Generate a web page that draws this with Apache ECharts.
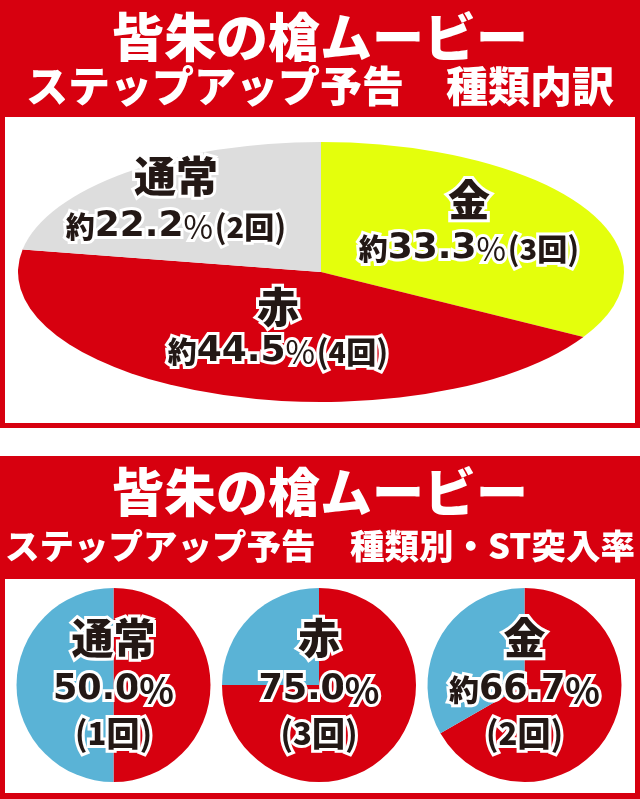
<!DOCTYPE html>
<html><head><meta charset="utf-8">
<script src="https://cdn.jsdelivr.net/npm/echarts@6/dist/echarts.min.js"></script>
<style>html,body{margin:0;padding:0;background:#fff}#c{width:640px;height:799px}</style>
</head><body><div id="c"></div>
<script>
// ---- data ----
const titleLine1 = '皆朱の槍ムービー';
const topSubtitle = 'ステップアップ予告　種類内訳';
const bottomSubtitle = 'ステップアップ予告　種類別・ST突入率';

const typeCategories = ['金', '赤', '通常'];
const typeCounts = [3, 4, 2];
const typePercents = ['33.3', '44.5', '22.2'];

const stCategories = ['通常', '赤', '金'];
const stRates = [50.0, 75.0, 66.7];
const stCounts = [1, 3, 2];
const stApprox = [false, false, true];

// ---- styles ----
const RED = '#d7000f';
const typeColors = ['#e4ff0c', RED, '#dddddd'];
const stColors = [RED, '#5ab3d6'];
const INK = '#231815';
const FONT = '"Noto Sans CJK JP", sans-serif';
const NUMFONT = '"DejaVu Sans", sans-serif';

const chart = echarts.init(document.getElementById('c'), null, {renderer: 'canvas'});

// ellipse pie geometry (layout)
const EC = {cx: 321, cy: 272, rx: 303, ry: 130};
const typeLabelPos = [[469, 200, 249], [278, 307, 352], [176, 176, 227]];

const totalType = typeCounts.reduce((a, b) => a + b, 0);
const SW = 6;
function rs(size, weight, family) {
  return {fontSize: size, fontWeight: weight, fontFamily: family, fill: INK, stroke: '#fff', lineWidth: SW};
}

function renderEllipseSlice(params, api) {
  const i = params.dataIndex;
  let before = 0;
  for (let j = 0; j < i; j++) before += typeCounts[j];
  const v = api.value(0);
  const R = 100;
  const start = -Math.PI / 2 + before / totalType * Math.PI * 2;
  const end = start + v / totalType * Math.PI * 2;
  const p = typeLabelPos[i];
  return {
    type: 'group',
    children: [
      {
        type: 'sector',
        x: EC.cx, y: EC.cy, scaleX: EC.rx / R, scaleY: EC.ry / R,
        shape: {cx: 0, cy: 0, r0: 0, r: R, startAngle: start, endAngle: end, clockwise: true},
        style: {fill: typeColors[i], stroke: null}
      },
      {
        type: 'text', x: p[0], y: p[1], z2: 100,
        style: {
          text: typeCategories[i], font: '900 42px ' + FONT, fill: INK,
          stroke: '#fff', lineWidth: SW, align: 'center', verticalAlign: 'middle'
        }
      },
      {
        type: 'text', x: p[0], y: p[2], z2: 100,
        style: {
          text: '{a|約}{b|' + typePercents[i] + '}{c|%}{s| }{d|(}{e|' + v + '}{f|回}{d|)}',
          align: 'center', verticalAlign: 'middle',
          fill: INK, stroke: '#fff', lineWidth: SW,
          rich: {
            a: rs(29, 900, FONT),
            b: rs(36, 'bold', NUMFONT),
            c: rs(32, 400, FONT),
            s: rs(6, 400, FONT),
            d: rs(32, 700, FONT),
            e: rs(29, 900, FONT),
            f: rs(30, 900, FONT)
          }
        }
      }
    ]
  };
}

function pr(size, weight, family, lh) {
  return {fontSize: size, fontWeight: weight, fontFamily: family, color: INK, lineHeight: lh, textBorderColor: '#fff', textBorderWidth: SW};
}
const pieCenters = [[113.5, 685], [319, 685], [524.5, 685]];
const pieRich = {
  n: pr(42, 900, FONT, 52),
  a: pr(30, 900, FONT, 52),
  v: pr(35, 'bold', NUMFONT, 52),
  p: pr(36, 700, FONT, 52),
  d: pr(34, 700, FONT, 34),
  e: pr(31, 900, FONT, 34),
  f: pr(33, 900, FONT, 34)
};

const pieSeries = stCategories.map((name, i) => ({
  type: 'pie',
  silent: true,
  animation: false,
  center: pieCenters[i],
  radius: [0, 97],
  startAngle: 90,
  clockwise: true,
  emphasis: {disabled: true},
  labelLine: {show: false},
  itemStyle: {borderWidth: 0},
  data: [
    {
      value: stRates[i], name: name, itemStyle: {color: stColors[0]},
      label: {
        show: true, position: 'center', padding: [0, 0, 8, 0],
        formatter: '{n|' + name + '}\n' + (stApprox[i] ? '{a|約}' : '') + '{v|' + stRates[i].toFixed(1) + '}{p|%}\n{d|(}{e|' + stCounts[i] + '}{f|回}{d|)}',
        rich: pieRich
      }
    },
    {value: +(100 - stRates[i]).toFixed(1), name: name + '-other', itemStyle: {color: stColors[1]}, label: {show: false}}
  ]
}));

const option = {
  animation: false,
  backgroundColor: '#fff',
  graphic: [
    {type: 'rect', shape: {x: 0, y: 0, width: 640, height: 428}, style: {fill: RED}, z: 0},
    {type: 'rect', shape: {x: 5, y: 117, width: 630, height: 306}, style: {fill: '#fff'}, z: 1},
    {type: 'rect', shape: {x: 0, y: 456, width: 640, height: 343}, style: {fill: RED}, z: 0},
    {type: 'rect', shape: {x: 5, y: 579, width: 630, height: 214}, style: {fill: '#fff'}, z: 1},
    {type: 'text', x: 320, y: 37, z: 5, style: {text: titleLine1, font: '900 52px ' + FONT, fill: '#fff', align: 'center', verticalAlign: 'middle'}},
    {type: 'text', x: 320, y: 86, z: 5, style: {text: topSubtitle, font: '900 42px ' + FONT, fill: '#fff', align: 'center', verticalAlign: 'middle'}},
    {type: 'text', x: 320, y: 492, z: 5, style: {text: titleLine1, font: '900 52px ' + FONT, fill: '#fff', align: 'center', verticalAlign: 'middle'}},
    {type: 'text', x: 320, y: 546, z: 5, style: {text: bottomSubtitle, font: '900 34.5px ' + FONT, fill: '#fff', align: 'center', verticalAlign: 'middle'}}
  ],
  series: [
    {
      type: 'custom',
      coordinateSystem: 'none',
      silent: true,
      animation: false,
      renderItem: renderEllipseSlice,
      data: typeCounts.map((v, i) => ({value: [v], name: typeCategories[i]}))
    }
  ].concat(pieSeries)
};
chart.setOption(option);
</script>
</body></html>
